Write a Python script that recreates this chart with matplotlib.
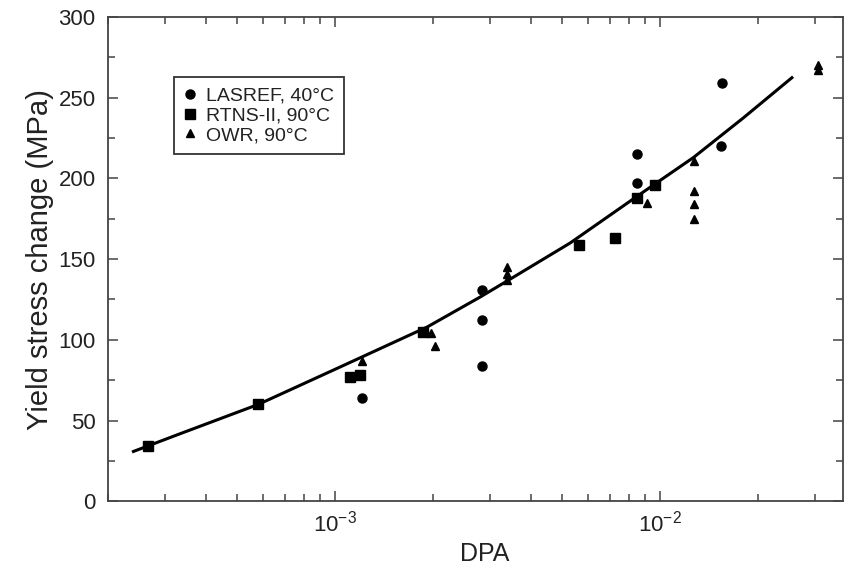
import matplotlib
matplotlib.use("Agg")
import matplotlib.pyplot as plt
from matplotlib.ticker import LogLocator, MultipleLocator

plt.rcParams['font.family'] = ['Liberation Sans', 'DejaVu Sans']
plt.rcParams['mathtext.fontset'] = 'custom'
plt.rcParams['mathtext.rm'] = 'Liberation Sans'
plt.rcParams['mathtext.it'] = 'Liberation Sans:italic'
plt.rcParams['mathtext.bf'] = 'Liberation Sans:bold'

# LASREF, 40 C  (circles)
lasref_dpa = [1.21e-3, 2.83e-3, 2.83e-3, 2.83e-3, 8.5e-3, 8.5e-3, 1.54e-2, 1.55e-2]
lasref_ys = [64, 131, 112, 84, 197, 215, 220, 259]

# RTNS-II, 90 C  (squares)
rtns_dpa = [2.66e-4, 5.8e-4, 1.11e-3, 1.19e-3, 1.86e-3, 5.64e-3, 7.27e-3, 8.5e-3, 9.66e-3]
rtns_ys = [34, 60, 77, 78, 105, 159, 163, 188, 196]

# OWR, 90 C  (triangles)
owr_dpa = [1.21e-3, 1.97e-3, 2.02e-3, 3.38e-3, 3.38e-3, 3.38e-3, 9.1e-3,
           1.27e-2, 1.27e-2, 1.27e-2, 1.27e-2, 3.06e-2, 3.06e-2]
owr_ys = [87, 104, 96, 145, 141, 137, 185, 211, 192, 184, 175, 270, 267]

# fitted curve
fit_dpa = [2.37e-4, 3.3e-4, 5.8e-4, 1.07e-3, 1.92e-3, 2.79e-3,
           3.38e-3, 5.28e-3, 8.49e-3, 1.265e-2, 1.8e-2, 2.56e-2]
fit_ys = [30.5, 41.5, 60, 84.5, 108, 126.5, 136.5, 160, 189, 213, 237.5, 263]

txt = '#222222'

fig = plt.figure(figsize=(8.44, 5.67), dpi=100)
ax = fig.add_axes([0.128, 0.116, 0.871, 0.854])

ax.plot(fit_dpa, fit_ys, color='black', lw=2.2, zorder=2,
        solid_joinstyle='round', solid_capstyle='butt')
ax.plot(lasref_dpa, lasref_ys, 'o', color='black', ms=6.5, ls='none',
        label='LASREF, 40\u00b0C', zorder=3)
ax.plot(rtns_dpa, rtns_ys, 's', color='black', ms=6.5, ls='none',
        label='RTNS-II, 90\u00b0C', zorder=3)
ax.plot(owr_dpa, owr_ys, '^', color='black', ms=5.5, ls='none',
        label='OWR, 90\u00b0C', zorder=3)

ax.set_xscale('log')
ax.set_xlim(2.0e-4, 3.65e-2)
ax.set_ylim(0, 300)
ax.xaxis.set_major_locator(LogLocator(base=10, numticks=10))
ax.xaxis.set_minor_locator(LogLocator(base=10, subs=range(2, 10), numticks=20))
ax.yaxis.set_major_locator(MultipleLocator(50))
ax.yaxis.set_minor_locator(MultipleLocator(25))

ax.tick_params(which='both', direction='in', top=True, right=True,
               colors='#444444', labelcolor=txt, labelsize=16, width=1.1)
ax.tick_params(which='major', length=7)
ax.tick_params(which='minor', length=5)
ax.tick_params(axis='x', which='major', pad=7)
ax.tick_params(axis='y', which='major', pad=9)
for s in ax.spines.values():
    s.set_color('#444444')
    s.set_linewidth(1.3)

ax.set_xlabel('DPA', fontsize=18, color=txt)
ax.xaxis.set_label_coords(0.512, -0.085)
ax.set_ylabel('Yield stress change (MPa)', fontsize=21, color=txt, labelpad=3)

leg = ax.legend(loc='upper left', bbox_to_anchor=(0.09, 0.876), borderaxespad=0,
                fontsize=14, handlelength=0.6, handletextpad=0.55, borderpad=0.5,
                labelspacing=0.12, fancybox=False, framealpha=1)
leg.get_frame().set_edgecolor('#333333')
leg.get_frame().set_linewidth(1.3)
for t in leg.get_texts():
    t.set_color(txt)

fig.savefig('out.png', dpi=100)
